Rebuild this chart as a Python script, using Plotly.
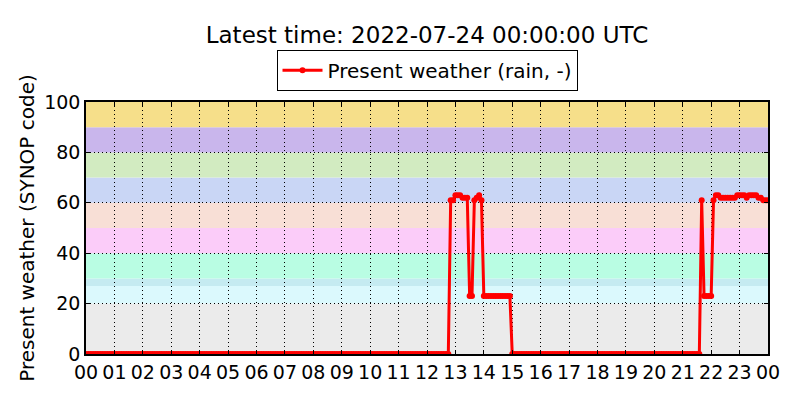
import pandas as pd
import plotly.graph_objects as go

# Present weather (SYNOP ww code), 5-minute values, 2022-07-23 00:00 -> 2022-07-24 00:00 UTC
start_time = "2022-07-23 00:00"
step_minutes = 5
present_weather = [
    0, 0, 0, 0, 0, 0, 0, 0, 0, 0, 0, 0,           # 00
    0, 0, 0, 0, 0, 0, 0, 0, 0, 0, 0, 0,           # 01
    0, 0, 0, 0, 0, 0, 0, 0, 0, 0, 0, 0,           # 02
    0, 0, 0, 0, 0, 0, 0, 0, 0, 0, 0, 0,           # 03
    0, 0, 0, 0, 0, 0, 0, 0, 0, 0, 0, 0,           # 04
    0, 0, 0, 0, 0, 0, 0, 0, 0, 0, 0, 0,           # 05
    0, 0, 0, 0, 0, 0, 0, 0, 0, 0, 0, 0,           # 06
    0, 0, 0, 0, 0, 0, 0, 0, 0, 0, 0, 0,           # 07
    0, 0, 0, 0, 0, 0, 0, 0, 0, 0, 0, 0,           # 08
    0, 0, 0, 0, 0, 0, 0, 0, 0, 0, 0, 0,           # 09
    0, 0, 0, 0, 0, 0, 0, 0, 0, 0, 0, 0,           # 10
    0, 0, 0, 0, 0, 0, 0, 0, 0, 0, 0, 0,           # 11
    0, 0, 0, 0, 0, 0, 0, 0, 0, 0, 61, 61,         # 12
    63, 63, 63, 62, 62, 62, 23, 23, 61, 62, 63, 61,  # 13
    23, 23, 23, 23, 23, 23, 23, 23, 23, 23, 23, 23,  # 14
    0, 0, 0, 0, 0, 0, 0, 0, 0, 0, 0, 0,           # 15
    0, 0, 0, 0, 0, 0, 0, 0, 0, 0, 0, 0,           # 16
    0, 0, 0, 0, 0, 0, 0, 0, 0, 0, 0, 0,           # 17
    0, 0, 0, 0, 0, 0, 0, 0, 0, 0, 0, 0,           # 18
    0, 0, 0, 0, 0, 0, 0, 0, 0, 0, 0, 0,           # 19
    0, 0, 0, 0, 0, 0, 0, 0, 0, 0, 0, 0,           # 20
    0, 0, 0, 0, 0, 0, 0, 0, 61, 23, 23, 23,       # 21
    23, 61, 63, 63, 62, 62, 62, 62, 62, 62, 62, 63,  # 22
    63, 63, 63, 62, 63, 63, 63, 63, 62, 62, 61, 61,  # 23
    61,                                           # 00
]

# background bands of SYNOP code groups
band_edges = [0, 20, 27, 30, 40, 50, 60, 70, 80, 90, 100]
band_colors = ["#ebebeb", "#dbf9fd", "#c5ebf1", "#b9fde3", "#fbccf9",
               "#f8dfd6", "#c9d6f5", "#d2ebc1", "#c9b6ec", "#f6df8a"]

times = pd.date_range(start_time, periods=len(present_weather), freq=f"{step_minutes}min")
tick_vals = pd.date_range(start_time, periods=25, freq="1h")
tick_text = [t.strftime("%H") for t in tick_vals]

fig = go.Figure()
fig.add_trace(go.Scatter(
    x=times, y=present_weather, mode="lines+markers",
    name="Present weather (rain, -)",
    line=dict(color="red", width=3),
    marker=dict(color="red", size=6),
))

for i in range(len(band_colors)):
    fig.add_shape(type="rect", xref="paper", yref="y", x0=0, x1=1,
                  y0=band_edges[i], y1=band_edges[i + 1],
                  fillcolor=band_colors[i], line_width=0, layer="below")

# page has an 8px body margin, so the figure is 792x392
fig.update_layout(
    width=792, height=392,
    margin=dict(l=78, r=32, t=94, b=46),
    paper_bgcolor="white", plot_bgcolor="white",
    font=dict(family="DejaVu Sans", color="black", size=19),
    title=dict(text="Latest time: 2022-07-24 00:00:00 UTC", xref="paper", x=0.5,
               xanchor="center", y=0.931, yanchor="middle", font=dict(size=23)),
    showlegend=True,
    legend=dict(orientation="h", x=0.5, xanchor="center", y=1.045, yanchor="bottom",
                bordercolor="black", borderwidth=1, bgcolor="white",
                itemwidth=40, font=dict(size=20)),
)
fig.update_xaxes(
    range=[tick_vals[0], tick_vals[-1]], tickvals=tick_vals, ticktext=tick_text,
    showgrid=True, gridcolor="black", griddash="1px,3px", gridwidth=1,
    showline=True, linecolor="black", linewidth=1.5, mirror="ticks",
    ticks="inside", ticklen=4, tickcolor="black", tickfont=dict(size=19),
    zeroline=False, automargin=False,
)
fig.update_yaxes(
    range=[0, 100], tickvals=[0, 20, 40, 60, 80, 100],
    title=dict(text="Present weather (SYNOP code)", font=dict(size=20), standoff=4),
    showgrid=True, gridcolor="black", griddash="1px,3px", gridwidth=1,
    showline=True, linecolor="black", linewidth=1.5, mirror="ticks",
    ticks="inside", ticklen=4, tickcolor="black", tickfont=dict(size=19),
    zeroline=False, automargin=False,
)

fig.write_html("out.html")
